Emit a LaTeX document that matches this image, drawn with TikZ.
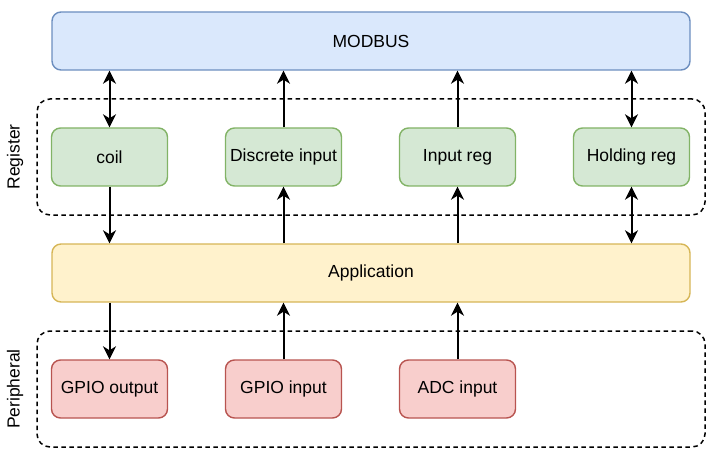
\documentclass[tikz,border=0pt]{standalone}
\usepackage{fontspec}
\setmainfont{Liberation Sans}
\usetikzlibrary{arrows.meta}
\definecolor{bluefill}{HTML}{DAE8FC}
\definecolor{blueline}{HTML}{6C8EBF}
\definecolor{greenfill}{HTML}{D5E8D4}
\definecolor{greenline}{HTML}{82B366}
\definecolor{yellowfill}{HTML}{FFF2CC}
\definecolor{yellowline}{HTML}{D6B656}
\definecolor{redfill}{HTML}{F8CECC}
\definecolor{redline}{HTML}{B85450}
\tikzset{
  box/.style={draw, line width=1.4pt, rounded corners=9pt, minimum width=116pt, minimum height=58pt, inner sep=0pt, font=\fontsize{17.5}{21}\selectfont},
  wide/.style={box, minimum width=638pt},
  group/.style={draw, line width=1.5pt, dash pattern=on 4.5pt off 3.5pt, rounded corners=13pt, minimum width=668pt, minimum height=116pt},
  arr/.style={line width=2pt, -{Stealth[length=13pt,width=13pt,inset=4pt]}},
  dbl/.style={line width=2pt, {Stealth[length=13pt,width=13pt,inset=4pt]}-{Stealth[length=13pt,width=13pt,inset=4pt]}}
}
\begin{document}
\begin{tikzpicture}[x=1pt, y=-1pt]
      \useasboundingbox (0,0) rectangle (718,468);
      \draw
        (371,157) node[group] (reg){}
        (371,389) node[group] (per){}
        (15,157) node[rotate=90, font=\fontsize{17.5}{21}\selectfont] (reglabel){Register}
        (15,389) node[rotate=90, font=\fontsize{17.5}{21}\selectfont] (perlabel){Peripheral};
      \draw
        (371,41) node[wide, fill=bluefill, draw=blueline] (modbus){MODBUS}
        (109.5,157) node[box, fill=greenfill, draw=greenline] (coil){coil}
        (283.5,157) node[box, fill=greenfill, draw=greenline] (discrete){Discrete input}
        (457.5,157) node[box, fill=greenfill, draw=greenline] (inputreg){Input reg}
        (631.5,157) node[box, fill=greenfill, draw=greenline] (holding){Holding reg}
        (371,273) node[wide, fill=yellowfill, draw=yellowline] (app){Application}
        (109.5,389) node[box, fill=redfill, draw=redline] (gpioout){GPIO output}
        (283.5,389) node[box, fill=redfill, draw=redline] (gpioin){GPIO input}
        (457.5,389) node[box, fill=redfill, draw=redline] (adc){ADC input};
      \begin{scope}[arr]
        \draw[dbl] (coil.north) to (coil.north |- modbus.south);
        \draw (discrete.north) to (discrete.north |- modbus.south);
        \draw (inputreg.north) to (inputreg.north |- modbus.south);
        \draw[dbl] (holding.north) to (holding.north |- modbus.south);
        \draw (coil.south) to (coil.south |- app.north);
        \draw (discrete.south |- app.north) to (discrete.south);
        \draw (inputreg.south |- app.north) to (inputreg.south);
        \draw[dbl] (holding.south) to (holding.south |- app.north);
        \draw (gpioout.north |- app.south) to (gpioout.north);
        \draw (gpioin.north) to (gpioin.north |- app.south);
        \draw (adc.north) to (adc.north |- app.south);
      \end{scope}
    \end{tikzpicture}
\end{document}
